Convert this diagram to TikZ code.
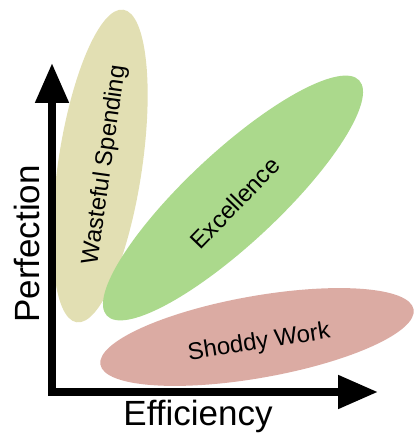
\documentclass[tikz,border=0pt]{standalone}
\usepackage{fontspec}
\setmainfont{Liberation Sans}
\usetikzlibrary{arrows.meta,positioning,shapes.geometric}
\definecolor{wastecol}{HTML}{E2DFB3}
\definecolor{excelcol}{HTML}{ABD98C}
\definecolor{shodcol}{HTML}{DBABA3}

\begin{document}
\begin{tikzpicture}[x=1pt, y=1pt,
			blob/.style={ellipse, inner sep=0pt},
			lbl/.style={font=\fontsize{24}{28}\selectfont, inner sep=0pt},
			ax/.style={line width=8pt, -{Triangle[length=40pt, width=32pt]}},
			axl/.style={font=\fontsize{35}{40}\selectfont, inner sep=0pt}
			]
			\useasboundingbox (0,0) rectangle (413,433);
			% the three regions
			\node[blob, fill=wastecol, minimum width=316pt, minimum height=84pt, rotate=81.5] (waste) at (100,267) {};
			\node[blob, fill=excelcol, minimum width=345pt, minimum height=92pt, rotate=43] (excel) at (233,235) {};
			\node[blob, fill=shodcol, minimum width=318pt, minimum height=82pt, rotate=10] (shod) at (257,96) {};
			\node[lbl, rotate=82] (wastet) at (105,268) {Wasteful Spending};
			\node[lbl, rotate=46] (excelt) at (235,230) {Excellence};
			\node[lbl, rotate=9] (shodt) at (259,90) {Shoddy Work};
			% axes
			\coordinate (origin) at (52,41);
			\coordinate (ytip) at (52,370);
			\coordinate (xtip) at (378,41);
			\draw[ax] ([xshift=-4pt]origin) -- (xtip);
			\draw[ax] ([yshift=-4pt]origin) -- (ytip);
			\node[axl, rotate=90] (perf) at (27,189) {Perfection};
			\node[axl] (effic) at (198,17) {Efficiency};
	\end{tikzpicture}
\end{document}
